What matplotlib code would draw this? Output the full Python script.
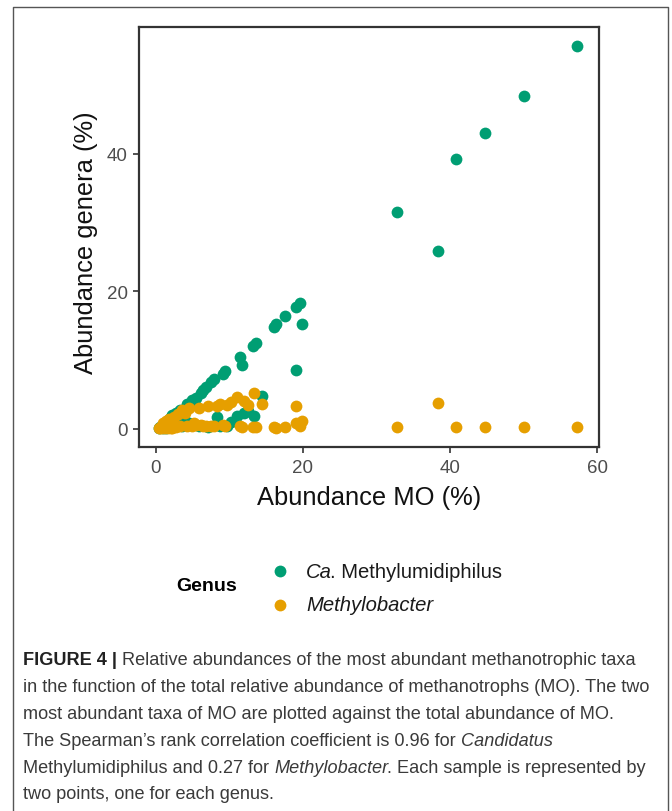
import matplotlib
matplotlib.use("Agg")
import matplotlib.pyplot as plt
from matplotlib.lines import Line2D

# ---------------- data ----------------
abundance_mo = [0.4, 0.6, 0.8, 1.0, 1.2, 1.4, 1.6, 1.8, 2.0, 2.2, 2.4, 2.7, 3.0, 3.3, 3.6,
                3.9, 4.2, 4.5, 4.9, 5.2, 5.5, 5.8, 6.1, 6.4, 6.8, 7.1, 7.5, 7.9, 8.3, 8.7,
                9.1, 9.4, 9.6, 10.2, 11.0, 11.4, 11.7, 12.0, 12.5, 13.2, 13.3, 13.6, 14.4,
                16.0, 16.3, 17.5, 19.0, 19.1, 19.6, 19.8, 32.8, 38.3, 40.8, 44.8, 50.1, 57.3]
methylumidiphilus = [0.2, 0.3, 0.5, 0.1, 0.9, 0.2, 1.3, 0.3, 1.7, 2.0, 0.4, 2.3, 0.6, 2.7, 0.5,
                     1.2, 3.6, 0.8, 4.2, 4.1, 4.5, 0.4, 5.2, 5.7, 6.1, 0.3, 6.8, 7.3, 1.7, 0.5,
                     8.0, 8.5, 0.4, 1.0, 1.9, 10.4, 9.3, 2.3, 2.6, 12.1, 1.9, 12.5, 4.8,
                     14.9, 15.2, 16.5, 8.6, 17.8, 18.3, 15.3, 31.5, 25.9, 39.3, 43.1, 48.5, 55.7]
methylobacter = [0.1, 0.2, 0.2, 0.8, 0.2, 1.1, 0.2, 1.4, 0.2, 0.1, 1.8, 0.3, 2.2, 0.4, 2.7,
                 2.3, 0.4, 3.0, 0.5, 0.8, 0.6, 3.0, 0.6, 0.5, 0.4, 3.3, 0.5, 0.4, 3.4, 3.6,
                 0.6, 0.5, 3.5, 3.9, 4.6, 0.4, 0.3, 4.0, 3.5, 0.3, 5.3, 0.3, 3.6,
                 0.3, 0.2, 0.3, 3.3, 0.9, 0.4, 1.2, 0.3, 3.8, 0.3, 0.3, 0.3, 0.3]
genus_labels = ["Ca. Methylumidiphilus", "Methylobacter"]
x_ticks = [0, 20, 40, 60]
y_ticks = [0, 20, 40]

GREEN = "#009E73"
ORANGE = "#E69F00"
W, H = 672, 812

plt.rcParams['font.family'] = ['Liberation Sans', 'DejaVu Sans']

fig = plt.figure(figsize=(W / 100, H / 100), dpi=100)

def fx(px):
    return px / W

def fy(py):
    return 1 - py / H

# outer frame
fig.add_artist(Line2D([fx(13), fx(13), fx(668), fx(668)], [0, fy(8), fy(8), 0],
                      transform=fig.transFigure, color="#555555", lw=1.0))

ax = fig.add_axes([fx(139), fy(448), fx(599) - fx(139), fy(28) - fy(448)])
ax.scatter(abundance_mo, methylumidiphilus, s=72, color=GREEN, linewidths=0, zorder=2)
ax.scatter(abundance_mo, methylobacter, s=72, color=ORANGE, linewidths=0, zorder=3)
ax.set_xlim(-2.31, 60.27)
ax.set_ylim(-2.62, 58.47)
ax.set_xticks(x_ticks)
ax.set_yticks(y_ticks)
ax.set_xticklabels([str(t) for t in x_ticks])
ax.set_yticklabels([str(t) for t in y_ticks])
for sp in ax.spines.values():
    sp.set_color("#333333")
    sp.set_linewidth(1.6)
ax.tick_params(axis='both', length=4, width=1.2, color="#333333",
               labelsize=13.5, labelcolor="#4d4d4d")
ax.tick_params(axis='x', pad=5)
ax.tick_params(axis='y', pad=4)

fig.text(fx(369), fy(498), "Abundance MO (%)", fontsize=18.4, ha='center', va='center',
         color="#111111")
fig.text(fx(86), fy(243), "Abundance genera (%)", fontsize=18.4, ha='center', va='center',
         rotation=90, color="#111111")

# legend
fig.text(fx(207), fy(587), "Genus", fontsize=14, fontweight='bold', ha='center', va='center')
fig.add_artist(Line2D([fx(280)], [fy(572)], marker='o', markersize=8.5, color=GREEN,
                      markeredgewidth=0, linestyle='none', transform=fig.transFigure))
fig.add_artist(Line2D([fx(280)], [fy(606)], marker='o', markersize=8.5, color=ORANGE,
                      markeredgewidth=0, linestyle='none', transform=fig.transFigure))

renderer = fig.canvas.get_renderer()

def rich(x_px, y_px, segs, size, color="#222222", family=None, gap=0.0):
    x = x_px
    for text, style, weight, col in segs:
        kw = dict(fontsize=size, fontstyle=style, fontweight=weight, color=col or color,
                  ha='left', va='baseline')
        if family:
            kw['family'] = family
        t = fig.text(fx(x), fy(y_px), text, **kw)
        x += t.get_window_extent(renderer).width + (gap if style == 'italic' else 0)
    return x

rich(306, 578, [("Ca", "italic", "normal", None),
                (". Methylumidiphilus", "normal", "normal", None)], 14.6, color="#1a1a1a",
     gap=-1.5)
rich(306, 611, [("Methylobacter", "italic", "normal", None)], 14.6, color="#1a1a1a")

# caption
cap_family = ['Liberation Sans', 'DejaVu Sans']
cap_size = 13.1
cap_col = "#3a3a3a"
lines = [
    [("FIGURE 4 |", "normal", "bold", "#222222"),
     (" Relative abundances of the most abundant methanotrophic taxa", "normal", "normal", None)],
    [("in the function of the total relative abundance of methanotrophs (MO). The two",
      "normal", "normal", None)],
    [("most abundant taxa of MO are plotted against the total abundance of MO.",
      "normal", "normal", None)],
    [("The Spearman\u2019s rank correlation coefficient is 0.96 for ", "normal", "normal", None),
     ("Candidatus", "italic", "normal", None)],
    [("Methylumidiphilus and 0.27 for ", "normal", "normal", None),
     ("Methylobacter", "italic", "normal", None),
     (". Each sample is represented by", "normal", "normal", None)],
    [("two points, one for each genus.", "normal", "normal", None)],
]
baselines = [665, 692, 719, 746, 773, 799]
for segs, b in zip(lines, baselines):
    rich(23, b, segs, cap_size, color=cap_col, family=cap_family, gap=-1.0)

fig.savefig("out.png", dpi=100)
